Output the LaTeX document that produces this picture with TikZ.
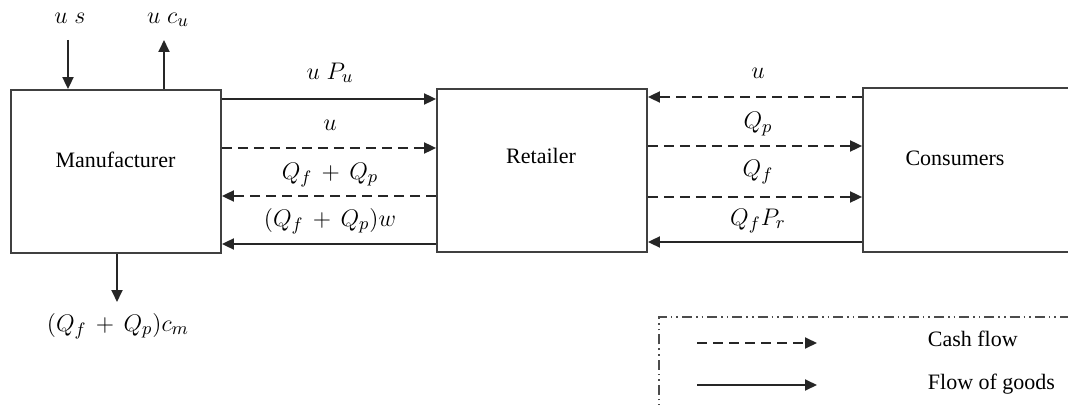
\documentclass[tikz,border=0pt]{standalone}
\usepackage{fontspec}
\setmainfont{Liberation Serif}
\usetikzlibrary{arrows.meta}
\begin{document}
\begin{tikzpicture}[x=0.5pt,y=-0.5pt,
  line width=0.9pt, draw=black!80,
  box/.style={draw=black!75, line width=0.9pt, rectangle, inner sep=0pt},
  goods/.style={-{Triangle[length=6pt,width=5.5pt]}, draw=black!85},
  cash/.style={goods, dash pattern=on 5pt off 3pt},
  lbl/.style={font=\fontsize{11}{13}\selectfont, inner sep=1pt},
  mlbl/.style={font=\fontsize{12.5}{14}\selectfont, inner sep=1pt},
  frame/.style={draw=black!70, line width=0.9pt, dash pattern=on 5pt off 2pt on 0.8pt off 2pt on 0.8pt off 2pt}]
\useasboundingbox (0,0) rectangle (1068,405);
\clip (0,0) rectangle (1068,405);
% boxes
\node[box, minimum width=105pt, minimum height=81.5pt] (man) at (116,171.5) {};
\node[box, minimum width=105pt, minimum height=81.5pt] (ret) at (542,170.5) {};
\node[box, minimum width=120pt, minimum height=82pt] (con) at (983,170) {};
\node[lbl] (tman) at (115.5,160) {Manufacturer};
\node[lbl] (tret) at (541,156) {Retailer};
\node[lbl] (tcon) at (955,158) {Consumers};
% top and bottom arrows
\coordinate (usin) at (68,40);
\coordinate (ucout) at (164,40);
\coordinate (cmout) at (117,302);
\draw[goods] (usin) -- (usin |- man.north);
\draw[goods] (ucout |- man.north) -- (ucout);
\draw[goods] (cmout |- man.south) -- (cmout);
\node[mlbl] (lus) at (70,18) {$u\;s$};
\node[mlbl] (luc) at (168,20) {$u\;c_u$};
\node[mlbl] (lcm) at (118,326) {$(Q_f\,+\,Q_p)c_m$};
% manufacturer - retailer
\draw[goods] (man.east |- 0,99) -- (ret.west |- 0,99);
\draw[cash] (man.east |- 0,148) -- (ret.west |- 0,148);
\draw[cash] (ret.west |- 0,196) -- (man.east |- 0,196);
\draw[goods] (ret.west |- 0,244) -- (man.east |- 0,244);
\node[mlbl] (l1) at (330,73) {$u\;P_u$};
\node[mlbl] (l2) at (330,125) {$u$};
\node[mlbl] (l3) at (330,175) {$Q_f\,+\,Q_p$};
\node[mlbl] (l4) at (330,221) {$(Q_f\,+\,Q_p)w$};
% retailer - consumers
\draw[cash] (con.west |- 0,97) -- (ret.east |- 0,97);
\draw[cash] (ret.east |- 0,146) -- (con.west |- 0,146);
\draw[cash] (ret.east |- 0,197) -- (con.west |- 0,197);
\draw[goods] (con.west |- 0,242) -- (ret.east |- 0,242);
\node[mlbl] (r1) at (758,73) {$u$};
\node[mlbl] (r2) at (758,124) {$Q_p$};
\node[mlbl] (r3) at (758,172) {$Q_f$};
\node[mlbl] (r4) at (758,221) {$Q_f P_r$};
% legend
\draw[frame] (659,420) -- (659,317) -- (1080,317);
\coordinate (c1) at (697,343);
\coordinate (c2) at (817,343);
\coordinate (g1) at (697,385);
\coordinate (g2) at (817,385);
\draw[cash] (c1) -- (c2);
\draw[goods] (g1) -- (g2);
\node[lbl, anchor=west] (lc) at (925,339) {Cash flow};
\node[lbl, anchor=west] (lg) at (925,384) {Flow of goods};
\end{tikzpicture}
\end{document}
